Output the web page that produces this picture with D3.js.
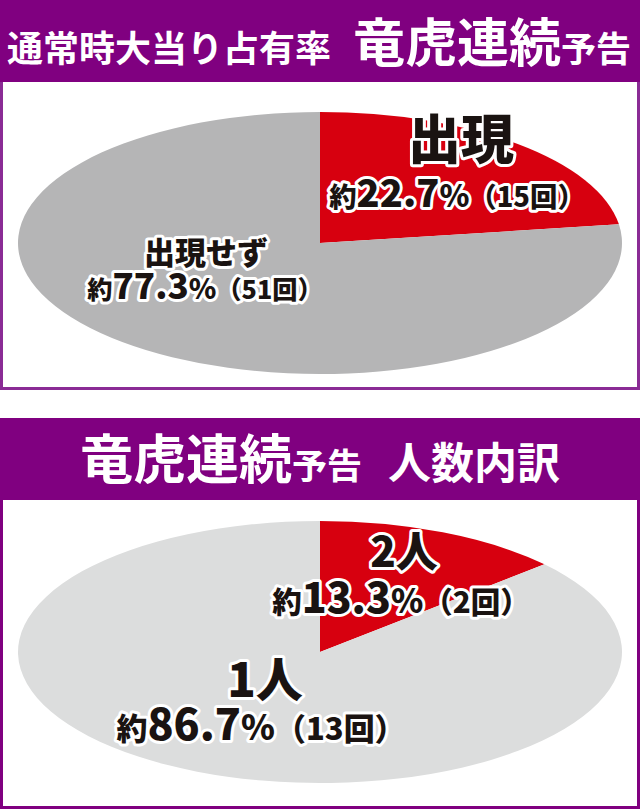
<!DOCTYPE html>
<html>
<head>
<meta charset="utf-8">
<script src="https://cdn.jsdelivr.net/npm/d3@7"></script>
<style>
  html, body { margin: 0; padding: 0; background: #fff; }
  svg { display: block; }
  text { font-family: "Noto Sans CJK JP", "Noto Sans", sans-serif; }
</style>
</head>
<body>
<div id="chart"></div>
<script>
// data
var topCategories = ["出現", "出現せず"];
var topCounts = [15, 51];
var topPercents = [22.7, 77.3];

var bottomCategories = ["2人", "1人"];
var bottomCounts = [2, 13];
var bottomPercents = [13.3, 86.7];

var width = 640, height = 809;
var purple = "#800080";

var svg = d3.select("#chart").append("svg")
    .attr("width", width)
    .attr("height", height);

// panel frames
function panel(y0, y1, headH, borderColor) {
  svg.append("rect")
      .attr("x", 1.5).attr("y", y0 + 1.5)
      .attr("width", width - 3).attr("height", y1 - y0 - 3)
      .attr("fill", "#fff")
      .attr("stroke", borderColor)
      .attr("stroke-width", 3);
  svg.append("rect")
      .attr("x", 0).attr("y", y0)
      .attr("width", width).attr("height", headH)
      .attr("fill", purple);
}
panel(0, 390, 82, "#8a2b95");
panel(418, 809, 82, purple);

// header titles
var t1 = svg.append("text")
    .attr("x", 7).attr("y", 62)
    .attr("fill", "#fff")
    .attr("font-weight", 700);
t1.append("tspan").attr("font-size", 36).text("通常時大当り占有率");
t1.append("tspan").attr("font-size", 52).attr("dx", 22).text("竜虎連続");
t1.append("tspan").attr("font-size", 35).text("予告");

var t2 = svg.append("text")
    .attr("x", 320).attr("y", 479)
    .attr("text-anchor", "middle")
    .attr("fill", "#fff")
    .attr("font-weight", 700);
t2.append("tspan").attr("font-size", 53).text("竜虎連続");
t2.append("tspan").attr("font-size", 35).text("予告");
t2.append("tspan").attr("font-size", 43).attr("dx", 26).text("人数内訳");

// pies
var rx = 302, ry = 131;

var pie = d3.pie().sort(null).value(function(d) { return d; });
var arc = d3.arc().innerRadius(0).outerRadius(rx);

function drawPie(cy, counts, colors) {
  var g = svg.append("g")
      .attr("transform", "translate(320," + cy + ") scale(1," + (ry / rx) + ")");
  g.selectAll("path")
      .data(pie(counts))
      .enter()
      .append("path")
      .attr("d", arc)
      .attr("fill", function(d, i) { return colors[i]; });
}

drawPie(243, topCounts, ["#d7000f", "#b5b5b6"]);
drawPie(652, bottomCounts, ["#d7000f", "#dcdddd"]);

// labels with white halo
function label(x, y, parts) {
  var t = svg.append("text")
      .attr("x", x).attr("y", y)
      .attr("text-anchor", "middle")
      .attr("font-weight", 900)
      .attr("fill", "#1a1311")
      .attr("stroke", "#fff")
      .attr("stroke-width", 6)
      .attr("stroke-linejoin", "round")
      .attr("paint-order", "stroke");
  parts.forEach(function(p) {
    t.append("tspan").attr("font-size", p[1]).text(p[0]);
  });
}

function pctParts(pct, count, big) {
  return [["約", big * 0.72], [pct.toFixed(1), big], ["%", big * 0.8],
          ["（" + count + "回）", big * 0.72]];
}

label(461, 159, [[topCategories[0], 53]]);
label(457, 207, pctParts(topPercents[0], topCounts[0], 38));
label(206, 264, [[topCategories[1], 31]]);
label(205, 299, pctParts(topPercents[1], topCounts[1], 35));

label(404, 567, [[bottomCategories[0], 42]]);
label(401, 613, pctParts(bottomPercents[0], bottomCounts[0], 41));
label(265, 697, [[bottomCategories[1], 47]]);
label(261, 740, pctParts(bottomPercents[1], bottomCounts[1], 43));
</script>
</body>
</html>
